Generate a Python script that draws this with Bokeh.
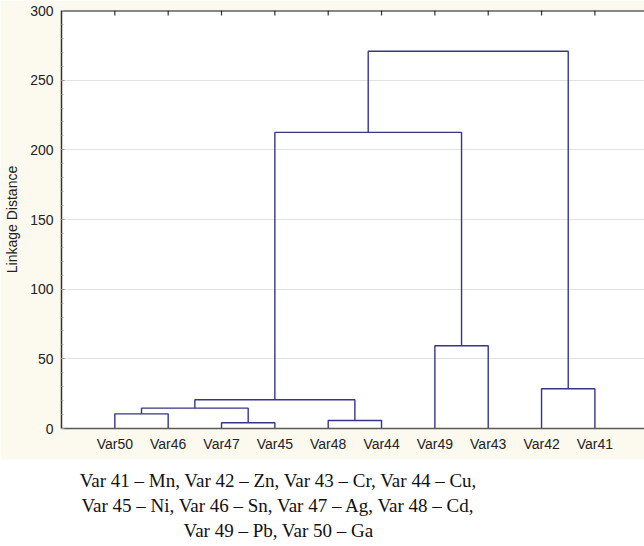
from bokeh.plotting import figure
from bokeh.layouts import column
from bokeh.models import LinearAxis, FixedTicker, Range1d, Label
from bokeh.embed import file_html
from bokeh.resources import INLINE

# ---- data ----
leaves = ["Var50", "Var46", "Var47", "Var45", "Var48", "Var44", "Var49", "Var43", "Var42", "Var41"]
merge_names = ["C1", "C2", "C3", "C4", "C5", "C6", "C7", "C8", "C9"]
merge_left = ["Var50", "Var47", "C1", "Var48", "C3", "Var49", "C5", "Var42", "C7"]
merge_right = ["Var46", "Var45", "C2", "Var44", "C4", "Var43", "C6", "Var41", "C8"]
merge_height = [10.5, 4.1, 14.6, 5.7, 20.6, 59.4, 212.5, 28.5, 270.8]
y_ticks = [0, 50, 100, 150, 200, 250, 300]
caption_lines = [
    "Var 41 \u2013 Mn, Var 42 \u2013 Zn, Var 43 \u2013 Cr, Var 44 \u2013 Cu,",
    "Var 45 \u2013 Ni, Var 46 \u2013 Sn, Var 47 \u2013 Ag, Var 48 \u2013 Cd,",
    "Var 49 \u2013 Pb, Var 50 \u2013 Ga",
]

# ---- dendrogram geometry from data ----
pos = {name: i + 1 for i, name in enumerate(leaves)}
hgt = {name: 0.0 for name in leaves}
xs, ys = [], []
for name, l, r, h in zip(merge_names, merge_left, merge_right, merge_height):
    xl, xr = pos[l], pos[r]
    xs.append([xl, xl, xr, xr])
    ys.append([hgt[l], h, h, hgt[r]])
    pos[name] = (xl + xr) / 2.0
    hgt[name] = h

y_top = y_ticks[-1]
cream = "#FCF9EE"
p = figure(width=644, height=459, output_backend="svg", toolbar_location=None,
           x_range=Range1d(0, 10.93), y_range=Range1d(0, y_top),
           x_axis_location=None, y_axis_location=None,
           min_border_left=61, min_border_right=0, min_border_top=10, min_border_bottom=31)
p.border_fill_color = cream
p.background_fill_color = "white"
p.outline_line_color = None

p.xgrid.visible = False
p.ygrid.ticker = FixedTicker(ticks=y_ticks)
p.ygrid.grid_line_color = "#e2e2e2"
p.ygrid.grid_line_width = 1

p.multi_line(xs, ys, line_color="#35358A", line_width=1.4)

# top frame line with inward ticks at leaf positions
leaf_x = list(range(1, len(leaves) + 1))
tick_len = y_top * 5.0 / 418.0
p.segment(x0=leaf_x, y0=[y_top] * len(leaf_x), x1=leaf_x, y1=[y_top - tick_len] * len(leaf_x),
          line_color="#333333", line_width=1.2)
p.segment(x0=[0], y0=[y_top], x1=[10.93], y1=[y_top], line_color="#111111", line_width=2)

# left axis
ya = LinearAxis(ticker=FixedTicker(ticks=y_ticks, minor_ticks=list(range(0, 301, 10))))
ya.axis_label = "Linkage Distance"
ya.axis_label_text_font = "Liberation Sans"
ya.axis_label_text_font_style = "normal"
ya.axis_label_text_font_size = "14px"
ya.axis_label_text_color = "#222222"
ya.axis_label_standoff = 7
ya.major_label_text_font = "Liberation Sans"
ya.major_label_text_font_size = "14px"
ya.major_label_text_color = "#222222"
ya.major_label_standoff = 8
ya.major_tick_in = 3
ya.major_tick_out = 0
ya.minor_tick_in = 2
ya.minor_tick_out = 0
ya.major_tick_line_color = "#888888"
ya.minor_tick_line_color = "#aaaaaa"
ya.axis_line_color = "#333333"
ya.axis_line_width = 1.5
p.add_layout(ya, "left")

# bottom axis with leaf labels
xa = LinearAxis(ticker=FixedTicker(ticks=leaf_x, minor_ticks=[]))
xa.major_label_overrides = {i + 1: n for i, n in enumerate(leaves)}
xa.major_label_text_font = "Liberation Sans"
xa.major_label_text_font_size = "14px"
xa.major_label_text_color = "#222222"
xa.major_label_standoff = 7
xa.major_tick_in = 0
xa.major_tick_out = 0
xa.axis_line_color = "#5a5a5a"
xa.axis_line_width = 1.5
p.add_layout(xa, "below")

# caption (frame is aligned with the chart frame, left edge at x=61)
c = figure(width=644, height=87, output_backend="svg", toolbar_location=None,
           x_range=Range1d(0, 1), y_range=Range1d(0, 1),
           x_axis_location=None, y_axis_location=None, min_border=0)
c.outline_line_color = None
c.xgrid.visible = False
c.ygrid.visible = False
c.background_fill_color = "white"
c.border_fill_color = "white"
for line, yb in zip(caption_lines, [66.0, 41.0, 16.5]):
    c.add_layout(Label(x=217, y=yb, x_units="screen", y_units="screen", text=line,
                       text_align="center", text_baseline="alphabetic",
                       text_font="Liberation Serif", text_font_size="19px",
                       text_color="#111111"))

layout = column(p, c, spacing=0)
open("out.html", "w").write(file_html(layout, INLINE))
